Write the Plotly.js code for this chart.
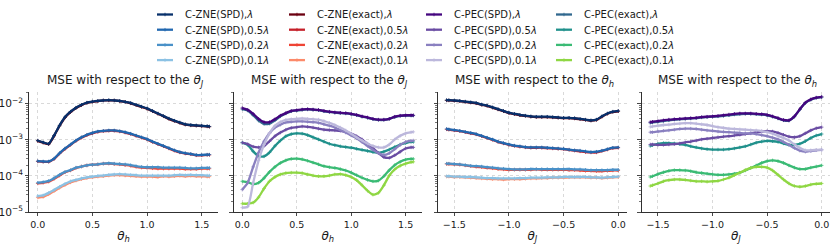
<!DOCTYPE html>
<html><head><meta charset="utf-8">
<script src="https://cdn.plot.ly/plotly-3.0.1.min.js"></script>
<style>html,body{margin:0;padding:0;background:#fff;}#chart{width:830px;height:247px;}</style>
</head><body><div id="chart"></div>
<script>
// x grids (radians)
const thetaH = [0,0.05,0.1,0.15,0.2,0.25,0.3,0.35,0.4,0.45,0.5,0.55,0.6,0.65,0.7,0.75,0.8,0.85,0.9,0.95,1.0,1.05,1.1,1.15,1.2,1.25,1.3,1.35,1.4,1.45,1.5,1.55,1.5708];
const thetaJ = [-1.5708,-1.55,-1.5,-1.45,-1.4,-1.35,-1.3,-1.25,-1.2,-1.15,-1.1,-1.05,-1.0,-0.95,-0.9,-0.85,-0.8,-0.75,-0.7,-0.65,-0.6,-0.55,-0.5,-0.45,-0.4,-0.35,-0.3,-0.25,-0.2,-0.15,-0.1,-0.05,0];

// values are log10(MSE), read from the reference
// Panel 1: MSE w.r.t. theta_J vs theta_h (C-ZNE)
const p1_zneSpd_1  = [-3.02,-3.07,-3.11,-2.88,-2.60,-2.37,-2.22,-2.11,-2.03,-1.97,-1.94,-1.92,-1.91,-1.90,-1.91,-1.92,-1.95,-1.98,-2.03,-2.08,-2.13,-2.20,-2.27,-2.34,-2.41,-2.47,-2.52,-2.57,-2.59,-2.60,-2.61,-2.62,-2.63];
const p1_zneSpd_05 = [-3.59,-3.60,-3.60,-3.52,-3.37,-3.24,-3.13,-3.02,-2.93,-2.86,-2.81,-2.77,-2.75,-2.74,-2.74,-2.76,-2.79,-2.83,-2.88,-2.93,-2.98,-3.05,-3.11,-3.17,-3.23,-3.29,-3.34,-3.37,-3.39,-3.42,-3.42,-3.41,-3.41];
const p1_zneSpd_02 = [-4.19,-4.17,-4.14,-4.06,-3.97,-3.89,-3.84,-3.77,-3.74,-3.71,-3.69,-3.68,-3.66,-3.65,-3.66,-3.67,-3.68,-3.70,-3.73,-3.75,-3.76,-3.76,-3.76,-3.77,-3.77,-3.77,-3.77,-3.78,-3.79,-3.79,-3.78,-3.78,-3.78];
const p1_zneSpd_01 = [-4.56,-4.54,-4.47,-4.39,-4.30,-4.22,-4.15,-4.11,-4.07,-4.04,-4.02,-4.00,-3.99,-3.97,-3.96,-3.95,-3.96,-3.97,-3.98,-3.99,-3.99,-3.99,-3.99,-3.99,-3.99,-3.98,-3.97,-3.98,-3.97,-3.98,-3.98,-3.99,-3.99];
const p1_zneEx_1   = [-3.03,-3.08,-3.12,-2.89,-2.61,-2.38,-2.23,-2.12,-2.04,-1.98,-1.95,-1.93,-1.91,-1.91,-1.91,-1.93,-1.95,-1.99,-2.04,-2.09,-2.14,-2.21,-2.28,-2.35,-2.42,-2.48,-2.53,-2.58,-2.60,-2.61,-2.62,-2.63,-2.64];
const p1_zneEx_05  = [-3.60,-3.61,-3.61,-3.53,-3.38,-3.25,-3.14,-3.03,-2.94,-2.87,-2.82,-2.78,-2.76,-2.75,-2.75,-2.77,-2.80,-2.84,-2.89,-2.94,-2.99,-3.06,-3.12,-3.18,-3.24,-3.30,-3.35,-3.38,-3.40,-3.43,-3.43,-3.42,-3.42];
const p1_zneEx_02  = [-4.21,-4.19,-4.16,-4.08,-3.99,-3.90,-3.85,-3.78,-3.74,-3.71,-3.69,-3.68,-3.66,-3.66,-3.67,-3.68,-3.70,-3.72,-3.75,-3.77,-3.78,-3.79,-3.80,-3.80,-3.80,-3.80,-3.80,-3.81,-3.81,-3.81,-3.80,-3.80,-3.80];
const p1_zneEx_01  = [-4.60,-4.58,-4.51,-4.42,-4.33,-4.25,-4.18,-4.13,-4.09,-4.06,-4.04,-4.02,-4.01,-3.99,-3.98,-3.98,-3.99,-4.00,-4.01,-4.02,-4.02,-4.02,-4.03,-4.01,-4.02,-4.01,-4.00,-4.01,-4.00,-4.01,-4.01,-4.02,-4.02];

// Panel 2: MSE w.r.t. theta_J vs theta_h (C-PEC)
const p2_pecSpd_1  = [-2.12,-2.17,-2.28,-2.42,-2.51,-2.51,-2.43,-2.33,-2.26,-2.20,-2.18,-2.16,-2.15,-2.16,-2.17,-2.20,-2.22,-2.24,-2.25,-2.26,-2.28,-2.31,-2.35,-2.38,-2.42,-2.44,-2.44,-2.42,-2.36,-2.33,-2.32,-2.32,-2.32];
const p2_pecSpd_05 = [-3.08,-3.12,-3.19,-3.21,-3.17,-3.04,-2.90,-2.80,-2.72,-2.67,-2.65,-2.63,-2.64,-2.66,-2.69,-2.72,-2.73,-2.74,-2.75,-2.78,-2.83,-2.90,-2.99,-3.11,-3.23,-3.37,-3.48,-3.50,-3.43,-3.33,-3.24,-3.21,-3.21];
const p2_pecSpd_02 = [-4.38,-4.19,-3.75,-3.35,-3.04,-2.82,-2.66,-2.58,-2.52,-2.50,-2.49,-2.49,-2.50,-2.51,-2.53,-2.57,-2.61,-2.66,-2.73,-2.80,-2.88,-2.96,-3.06,-3.17,-3.28,-3.37,-3.42,-3.37,-3.26,-3.14,-3.06,-3.03,-3.02];
const p2_pecSpd_01 = [-4.88,-4.85,-4.19,-3.57,-3.13,-2.82,-2.61,-2.51,-2.45,-2.43,-2.42,-2.41,-2.42,-2.43,-2.44,-2.48,-2.53,-2.59,-2.66,-2.74,-2.83,-2.93,-3.02,-3.10,-3.17,-3.21,-3.21,-3.13,-2.99,-2.89,-2.82,-2.79,-2.78];
const p2_pecEx_1   = [-2.15,-2.19,-2.32,-2.47,-2.56,-2.55,-2.46,-2.35,-2.27,-2.21,-2.19,-2.17,-2.16,-2.17,-2.18,-2.21,-2.23,-2.25,-2.26,-2.27,-2.29,-2.32,-2.36,-2.39,-2.43,-2.45,-2.45,-2.42,-2.37,-2.34,-2.33,-2.33,-2.33];
const p2_pecEx_05  = [-3.08,-3.14,-3.32,-3.45,-3.46,-3.35,-3.17,-3.02,-2.90,-2.84,-2.82,-2.83,-2.87,-2.93,-2.99,-3.05,-3.11,-3.15,-3.18,-3.20,-3.22,-3.25,-3.28,-3.31,-3.34,-3.36,-3.33,-3.27,-3.20,-3.13,-3.09,-3.06,-3.06];
const p2_pecEx_02  = [-4.15,-4.17,-4.23,-4.19,-4.06,-3.89,-3.75,-3.64,-3.57,-3.53,-3.52,-3.54,-3.58,-3.63,-3.68,-3.73,-3.76,-3.78,-3.81,-3.85,-3.91,-3.98,-4.05,-4.11,-4.15,-4.13,-4.01,-3.84,-3.70,-3.61,-3.55,-3.53,-3.53];
const p2_pecEx_01  = [-4.77,-4.77,-4.74,-4.59,-4.35,-4.15,-4.03,-3.96,-3.92,-3.91,-3.91,-3.92,-3.96,-3.99,-4.01,-4.01,-3.99,-3.96,-3.95,-3.98,-4.03,-4.12,-4.26,-4.41,-4.52,-4.47,-4.26,-3.99,-3.82,-3.72,-3.66,-3.62,-3.61];

// Panel 3: MSE w.r.t. theta_h vs theta_J (C-ZNE)
const p3_zneSpd_1  = [-1.90,-1.90,-1.91,-1.92,-1.94,-1.96,-1.98,-2.02,-2.05,-2.10,-2.15,-2.20,-2.25,-2.28,-2.31,-2.33,-2.35,-2.36,-2.36,-2.36,-2.37,-2.38,-2.39,-2.39,-2.40,-2.42,-2.44,-2.46,-2.44,-2.35,-2.27,-2.22,-2.20];
const p3_zneSpd_05 = [-2.70,-2.71,-2.73,-2.75,-2.78,-2.81,-2.84,-2.89,-2.94,-2.99,-3.05,-3.09,-3.13,-3.16,-3.18,-3.20,-3.21,-3.21,-3.21,-3.22,-3.23,-3.24,-3.25,-3.27,-3.29,-3.30,-3.32,-3.34,-3.33,-3.30,-3.26,-3.22,-3.21];
const p3_zneSpd_02 = [-3.66,-3.66,-3.67,-3.68,-3.70,-3.72,-3.73,-3.74,-3.76,-3.77,-3.79,-3.80,-3.81,-3.82,-3.82,-3.82,-3.81,-3.81,-3.81,-3.81,-3.81,-3.81,-3.81,-3.81,-3.82,-3.82,-3.83,-3.84,-3.84,-3.84,-3.84,-3.83,-3.83];
const p3_zneSpd_01 = [-4.01,-4.01,-4.02,-4.02,-4.03,-4.03,-4.04,-4.05,-4.06,-4.06,-4.07,-4.07,-4.07,-4.07,-4.06,-4.06,-4.05,-4.05,-4.05,-4.04,-4.04,-4.04,-4.03,-4.03,-4.03,-4.03,-4.03,-4.04,-4.04,-4.05,-4.04,-4.03,-4.02];
const p3_zneEx_1   = [-1.91,-1.91,-1.92,-1.93,-1.95,-1.97,-1.99,-2.03,-2.06,-2.11,-2.16,-2.21,-2.26,-2.29,-2.32,-2.34,-2.36,-2.37,-2.37,-2.37,-2.38,-2.39,-2.40,-2.40,-2.41,-2.43,-2.45,-2.47,-2.45,-2.36,-2.28,-2.23,-2.21];
const p3_zneEx_05  = [-2.71,-2.72,-2.74,-2.76,-2.79,-2.82,-2.85,-2.90,-2.95,-3.00,-3.06,-3.10,-3.14,-3.17,-3.19,-3.21,-3.22,-3.22,-3.22,-3.23,-3.24,-3.25,-3.26,-3.28,-3.30,-3.32,-3.34,-3.35,-3.35,-3.31,-3.27,-3.23,-3.22];
const p3_zneEx_02  = [-3.67,-3.67,-3.68,-3.69,-3.71,-3.73,-3.75,-3.76,-3.78,-3.79,-3.81,-3.82,-3.83,-3.83,-3.83,-3.83,-3.83,-3.82,-3.83,-3.83,-3.83,-3.83,-3.83,-3.84,-3.84,-3.85,-3.86,-3.86,-3.87,-3.87,-3.86,-3.85,-3.85];
const p3_zneEx_01  = [-4.02,-4.02,-4.03,-4.03,-4.04,-4.05,-4.06,-4.07,-4.08,-4.09,-4.09,-4.10,-4.09,-4.09,-4.09,-4.08,-4.07,-4.07,-4.06,-4.06,-4.05,-4.05,-4.05,-4.04,-4.04,-4.04,-4.04,-4.05,-4.05,-4.06,-4.05,-4.04,-4.03];

// Panel 4: MSE w.r.t. theta_h vs theta_J (C-PEC)
const p4_pecSpd_1  = [-2.51,-2.50,-2.48,-2.46,-2.44,-2.43,-2.42,-2.41,-2.40,-2.39,-2.37,-2.36,-2.35,-2.34,-2.32,-2.30,-2.28,-2.27,-2.27,-2.27,-2.28,-2.29,-2.31,-2.35,-2.40,-2.45,-2.46,-2.35,-2.15,-1.97,-1.88,-1.83,-1.81];
const p4_pecSpd_05 = [-3.13,-3.13,-3.14,-3.14,-3.13,-3.12,-3.10,-3.07,-3.05,-3.02,-2.99,-2.97,-2.95,-2.93,-2.91,-2.90,-2.88,-2.86,-2.84,-2.82,-2.79,-2.77,-2.76,-2.77,-2.81,-2.86,-2.91,-2.93,-2.90,-2.82,-2.74,-2.68,-2.65];
const p4_pecSpd_02 = [-2.79,-2.79,-2.77,-2.75,-2.74,-2.72,-2.70,-2.69,-2.69,-2.70,-2.72,-2.74,-2.75,-2.77,-2.78,-2.79,-2.80,-2.81,-2.82,-2.82,-2.84,-2.87,-2.90,-2.94,-2.99,-3.06,-3.14,-3.23,-3.30,-3.33,-3.31,-3.29,-3.28];
const p4_pecSpd_01 = [-2.64,-2.63,-2.61,-2.59,-2.58,-2.56,-2.55,-2.54,-2.54,-2.55,-2.57,-2.59,-2.62,-2.65,-2.67,-2.69,-2.70,-2.71,-2.72,-2.73,-2.74,-2.76,-2.79,-2.83,-2.89,-2.95,-3.02,-3.13,-3.23,-3.29,-3.29,-3.28,-3.27];
const p4_pecEx_1   = [-2.53,-2.52,-2.50,-2.48,-2.46,-2.44,-2.43,-2.42,-2.41,-2.40,-2.38,-2.37,-2.36,-2.35,-2.34,-2.32,-2.30,-2.29,-2.28,-2.28,-2.29,-2.30,-2.32,-2.36,-2.41,-2.46,-2.47,-2.36,-2.16,-1.98,-1.89,-1.84,-1.82];
const p4_pecEx_05  = [-3.17,-3.15,-3.11,-3.09,-3.09,-3.10,-3.12,-3.14,-3.18,-3.21,-3.24,-3.26,-3.27,-3.27,-3.27,-3.26,-3.24,-3.21,-3.18,-3.13,-3.08,-3.05,-3.03,-3.04,-3.06,-3.10,-3.14,-3.14,-3.11,-3.04,-2.95,-2.88,-2.84];
const p4_pecEx_02  = [-4.03,-4.01,-3.95,-3.90,-3.86,-3.84,-3.84,-3.85,-3.87,-3.90,-3.92,-3.94,-3.96,-3.97,-3.97,-3.96,-3.94,-3.91,-3.85,-3.78,-3.71,-3.64,-3.59,-3.57,-3.59,-3.64,-3.71,-3.77,-3.81,-3.81,-3.77,-3.74,-3.71];
const p4_pecEx_01  = [-4.28,-4.26,-4.21,-4.15,-4.12,-4.10,-4.10,-4.11,-4.13,-4.15,-4.15,-4.16,-4.15,-4.14,-4.10,-4.05,-3.98,-3.91,-3.84,-3.78,-3.75,-3.75,-3.77,-3.85,-3.97,-4.10,-4.21,-4.28,-4.30,-4.28,-4.24,-4.22,-4.21];

const levelLabels = ['<i>λ</i>', '0.5<i>λ</i>', '0.2<i>λ</i>', '0.1<i>λ</i>'];
const methodNames = ['C-ZNE(SPD)', 'C-ZNE(exact)', 'C-PEC(SPD)', 'C-PEC(exact)'];
const colZneSpd = ['#08306b', '#2268b0', '#4a91c8', '#8cc2e4'];
const colZneEx  = ['#6b0010', '#c5202a', '#ef4434', '#fc8a6a'];
const colPecSpd = ['#45067f', '#6a4ca3', '#8a80c0', '#bcb8dc'];
const colPecEx  = ['#31688e', '#21918c', '#3bbb75', '#8fd744'];
const xTickVals1 = [0, 0.5, 1.0, 1.5];
const xTickVals2 = [-1.5, -1.0, -0.5, 0.0];

const toMSE = a => a.map(v => Math.pow(10, v));
const data = [];
function addSet(x, arrs, colors, method, xa, ya, legend, show) {
  arrs.forEach((arr, i) => {
    data.push({
      type: 'scatter', mode: 'lines+markers', x: x, y: toMSE(arr),
      xaxis: xa, yaxis: ya, legend: legend, showlegend: show,
      name: methodNames[method] + ',' + levelLabels[i],
      line: {color: colors[i], width: 2.3, shape: 'spline', smoothing: 0.6},
      marker: {symbol: 'cross-thin', size: 2.5, color: colors[i], line: {color: colors[i], width: 0.8}},
      hoverinfo: 'skip'
    });
  });
}
addSet(thetaH, [p1_zneEx_1, p1_zneEx_05, p1_zneEx_02, p1_zneEx_01], colZneEx, 1, 'x', 'y', 'legend2', true);
addSet(thetaH, [p1_zneSpd_1, p1_zneSpd_05, p1_zneSpd_02, p1_zneSpd_01], colZneSpd, 0, 'x', 'y', 'legend', true);
addSet(thetaH, [p2_pecEx_1, p2_pecEx_05, p2_pecEx_02, p2_pecEx_01], colPecEx, 3, 'x2', 'y2', 'legend4', true);
addSet(thetaH, [p2_pecSpd_1, p2_pecSpd_05, p2_pecSpd_02, p2_pecSpd_01], colPecSpd, 2, 'x2', 'y2', 'legend3', true);
addSet(thetaJ, [p3_zneEx_1, p3_zneEx_05, p3_zneEx_02, p3_zneEx_01], colZneEx, 1, 'x3', 'y3', 'legend2', false);
addSet(thetaJ, [p3_zneSpd_1, p3_zneSpd_05, p3_zneSpd_02, p3_zneSpd_01], colZneSpd, 0, 'x3', 'y3', 'legend', false);
addSet(thetaJ, [p4_pecEx_1, p4_pecEx_05, p4_pecEx_02, p4_pecEx_01], colPecEx, 3, 'x4', 'y4', 'legend4', false);
addSet(thetaJ, [p4_pecSpd_1, p4_pecSpd_05, p4_pecSpd_02, p4_pecSpd_01], colPecSpd, 2, 'x4', 'y4', 'legend3', false);

const ink = '#1a1a1a';
function xax(domain, range, ticks, title) {
  return {
    domain: domain, range: range, tickvals: ticks, tickformat: '.1f',
    showline: true, linecolor: ink, linewidth: 0.9, mirror: false,
    ticks: 'outside', ticklen: 3.5, tickwidth: 0.8, tickcolor: ink,
    showgrid: true, gridcolor: '#cfcfcf', griddash: 'dot', gridwidth: 0.8, zeroline: false,
    tickfont: {size: 9.5, color: ink},
    title: {text: title, font: {size: 12, color: ink}, standoff: 2}
  };
}
function yax(anchor, labels) {
  return {
    type: 'log', range: [-5, -1.676], anchor: anchor, dtick: 1, exponentformat: 'power',
    showticklabels: labels,
    showline: true, linecolor: ink, linewidth: 0.9, mirror: false,
    ticks: 'outside', ticklen: 3.5, tickwidth: 0.8, tickcolor: ink,
    minor: {ticks: 'outside', ticklen: 2, tickwidth: 0.6, tickcolor: ink, dtick: 'D1', showgrid: false},
    showgrid: true, gridcolor: '#cfcfcf', griddash: 'dot', gridwidth: 0.8, zeroline: false,
    tickfont: {size: 8.5, color: ink}
  };
}
const thH = '<i>θ</i><sub><i>h</i></sub>';
const thJ = '<i>θ</i><sub><i>J</i></sub>';
const doms = [[0.0351, 0.2627], [0.2816, 0.5083], [0.5277, 0.7553], [0.7731, 1.0]];
const titles = ['MSE with respect to the ' + thJ, 'MSE with respect to the ' + thJ,
                'MSE with respect to the ' + thH, 'MSE with respect to the ' + thH];
const legBase = {y: 1.768, yanchor: 'top', xanchor: 'left', bgcolor: 'rgba(0,0,0,0)', borderwidth: 0,
                 font: {size: 10, color: ink}, tracegroupgap: 0};
const layout = {
  width: 830, height: 247, autosize: false,
  margin: {l: 0, r: 0, t: 87, b: 35},
  paper_bgcolor: '#fff', plot_bgcolor: '#fff',
  font: {family: 'DejaVu Sans', size: 10, color: ink},
  xaxis: xax(doms[0], [-0.0785, 1.6493], xTickVals1, thH),
  xaxis2: xax(doms[1], [-0.0785, 1.6493], xTickVals1, thH),
  xaxis3: xax(doms[2], [-1.6493, 0.0785], xTickVals2, thJ),
  xaxis4: xax(doms[3], [-1.6493, 0.0760], xTickVals2, thJ),
  yaxis: yax('x', true),
  yaxis2: yax('x2', false),
  yaxis3: yax('x3', false),
  yaxis4: yax('x4', false),
  legend:  Object.assign({x: 0.1747}, legBase),
  legend2: Object.assign({x: 0.3337}, legBase),
  legend3: Object.assign({x: 0.4988}, legBase),
  legend4: Object.assign({x: 0.6554}, legBase),
  annotations: titles.map((t, i) => ({
    text: t, xref: 'paper', yref: 'paper', x: (doms[i][0] + doms[i][1]) / 2 + 0.002, y: 1.0904,
    xanchor: 'center', yanchor: 'middle', showarrow: false, font: {size: 12, color: ink}
  }))
};
Plotly.newPlot('chart', data, layout, {staticPlot: true}).then(function (gd) {
  ['legend', 'legend2', 'legend3', 'legend4'].forEach(function (id) {
    const g = gd.querySelector('g.' + id);
    if (!g) return;
    const items = g.querySelectorAll('g.traces');
    let y0 = null;
    items.forEach(function (it, i) {
      const m = /translate\(\s*([-\d.e]+)[\s,]+([-\d.e]+)\s*\)/.exec(it.getAttribute('transform') || '');
      if (!m) return;
      if (y0 === null) y0 = parseFloat(m[2]);
      it.setAttribute('transform', 'translate(' + m[1] + ',' + (y0 + i * 15.2) + ')');
      const ln = it.querySelector('path.js-line');
      if (ln) ln.setAttribute('d', 'M12,0h16');
    });
  });
});
</script>
</body></html>
